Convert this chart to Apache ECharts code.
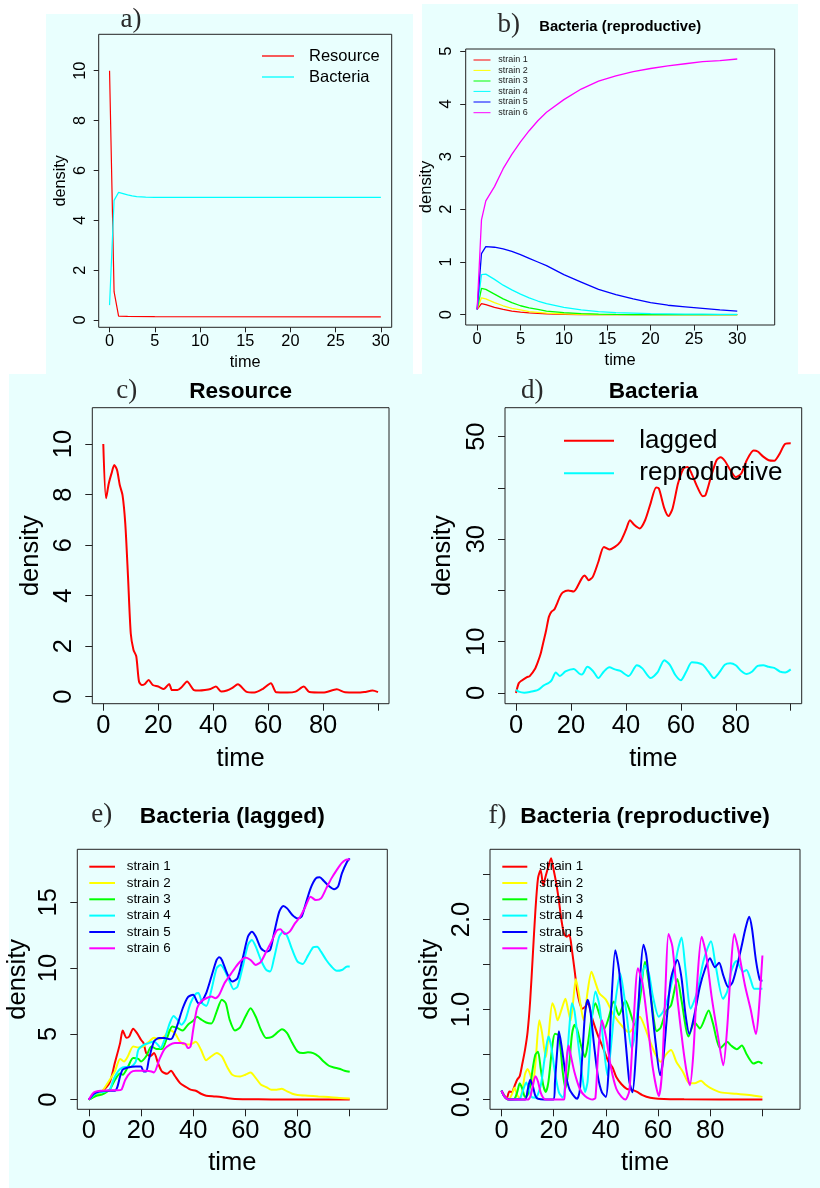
<!DOCTYPE html>
<html><head><meta charset="utf-8">
<script src="https://cdn.jsdelivr.net/npm/echarts@6/dist/echarts.min.js"></script>
<style>
html,body{margin:0;padding:0;background:#fff;}
#wrap{position:relative;width:820px;height:1188px;overflow:hidden;}
.bg{position:absolute;background:#e9fffe;}
#chart{position:absolute;left:0;top:0;width:820px;height:1188px;}
</style>
</head><body><div id="wrap">
<div class="bg" style="left:46px;top:14px;width:367px;height:365px"></div>
<div class="bg" style="left:422px;top:4px;width:376px;height:372px"></div>
<div class="bg" style="left:9px;top:374px;width:811px;height:814px"></div>
<div id="chart"></div></div>
<script>
// ---------------- data ----------------
const strainNames = ['strain 1','strain 2','strain 3','strain 4','strain 5','strain 6'];
const strainColors = ['#FF0000','#FFFF00','#00FF00','#00FFFF','#0000FF','#FF00FF'];

// panel a
const aNames = ['Resource','Bacteria'];
const aColors = ['#FF0000','#00FFFF'];
const aResource = [[0,10],[0.5,1.14],[1,0.16],[2,0.15],[5,0.14],[30,0.13]];
const aBacteria = [[0,0.6],[0.5,4.8],[1,5.12],[1.5,5.07],[2,5.02],[2.5,4.98],[3,4.95],[4,4.93],[5,4.92],[30,4.92]];
const aXTicks = [0,5,10,15,20,25,30];
const aYTicks = [0,2,4,6,8,10];

// panel b
const bTime = [0,0.5,1,2,3,4,5,6,7,8,10,12,14,16,18,20,22,24,26,28,30];
const bStrain1 = [0.1,0.21,0.19,0.14,0.1,0.07,0.05,0.035,0.025,0.018,0.008,0.004,0,0,0,0,0,0,0,0,0];
const bStrain2 = [0.1,0.32,0.3,0.23,0.17,0.12,0.09,0.06,0.045,0.03,0.015,0.008,0.003,0,0,0,0,0,0,0,0];
const bStrain3 = [0.1,0.5,0.48,0.39,0.3,0.23,0.17,0.13,0.1,0.07,0.04,0.02,0.01,0.005,0.003,0.002,0.001,0,0,0,0];
const bStrain4 = [0.1,0.76,0.77,0.67,0.56,0.47,0.39,0.32,0.26,0.21,0.14,0.09,0.06,0.04,0.03,0.02,0.015,0.01,0.01,0.005,0.005];
const bStrain5 = [0.1,1.16,1.29,1.28,1.25,1.2,1.14,1.07,1.0,0.93,0.76,0.62,0.48,0.38,0.3,0.23,0.18,0.15,0.12,0.09,0.07];
const bStrain6 = [0.1,1.8,2.16,2.43,2.77,3.04,3.28,3.49,3.68,3.84,4.08,4.28,4.43,4.53,4.61,4.67,4.72,4.76,4.8,4.82,4.85];
const bXTicks = [0,5,10,15,20,25,30];
const bYTicks = [0,1,2,3,4,5];

// panel c
const cResource = [[0,10.0],[1,7.85],[2,8.44],[3,8.84],[4,9.17],[5,8.97],[6,8.38],[7,7.98],[8,6.86],[9,4.75],[10,2.5],[11,1.85],[12,1.6],[13,0.6],[14,0.46],[15,0.49],[16.5,0.66],[18,0.46],[20,0.4],[22,0.3],[24,0.5],[25,0.26],[27,0.26],[28.5,0.37],[30.5,0.6],[33,0.26],[35,0.24],[37,0.26],[39,0.3],[41,0.4],[43,0.2],[45,0.24],[47,0.35],[49,0.49],[52,0.2],[55,0.16],[58,0.3],[61,0.53],[63,0.17],[67,0.16],[70,0.2],[73,0.4],[75,0.18],[80,0.16],[85,0.29],[88,0.17],[92,0.16],[95,0.18],[98,0.24],[100,0.18]];
const cdXTicks = [0,20,40,60,80,100];
const cdXLabels = [0,20,40,60,80];
const cYTicks = [0,2,4,6,8,10];

// panel d
const dNames = ['lagged','reproductive'];
const dColors = ['#FF0000','#00FFFF'];
const dLagged = [[0,0],[1,1.9],[2,2.4],[4,3.1],[5,3.3],[7,4.8],[8,6.1],[9,7.7],[10,10],[11,12.3],[12,14.9],[13,15.9],[14,16.3],[15,17.5],[16,18.8],[17,19.6],[19,20],[21,19.8],[22,20.4],[24,22.4],[25,22.9],[26.5,22],[28,22.7],[30,25.6],[32,28.5],[34,28],[36,28.5],[38,29.5],[40,31.8],[41.5,33.7],[43,32.8],[45,32.1],[47,33.7],[49,37],[51,40.1],[52,39.9],[54,36],[55.5,34.5],[57,36],[59,40.9],[61,43.8],[62.5,44.1],[64,42.7],[66,40.2],[68,38.4],[69,38.6],[71,42.2],[73,45.4],[74.5,46],[76,45.3],[78,43.5],[80,42.1],[82,42.8],[84,45.4],[86.5,47.3],[88,47.1],[90,46.1],[92,45.4],[94,45.3],[96,46.7],[98,48.6],[100,48.7]];
const dReproductive = [[0,0.6],[1,0.26],[3,0.07],[5,0.2],[8,0.6],[10,1.43],[12,2],[13,2.5],[14.5,4],[16,3.3],[18,4.2],[21,4.7],[23,3.8],[24,3.6],[26,5.1],[28,4.3],[30,2.9],[32,4.2],[34,5.0],[36,4.6],[38,4.3],[41,3.3],[44,5.4],[46,4.8],[49,2.9],[51.5,4.0],[54,6.4],[56,5.5],[58,3.5],[60,2.5],[62,4.2],[64,6.0],[66,5.9],[68,5.5],[70,4.2],[72,2.9],[74,4.0],[76,5.5],[78,5.8],[80,5.4],[82,4.3],[84,3.7],[86,4.2],[88,5.3],[90,5.4],[92,5.1],[94,4.9],[96,4.2],[98,4.0],[100,4.6]];
const dYTicks = [0,10,20,30,40,50];
const dYLabels = [0,10,30,50];

// panel e (lagged strains)
const eStrain1 = [[0,0],[3,0.4],[5,0.6],[8,1.3],[10,2.8],[12,4.3],[13,5.26],[14.5,4.7],[15.5,4.8],[17,5.4],[18.5,5.06],[20,4.55],[21,4.3],[22,3.54],[23.5,3.3],[25,3.54],[26.5,2.8],[28,2.15],[30,1.97],[31.5,2.2],[33,1.8],[35,1.26],[37,1.0],[39,0.76],[41,0.68],[43,0.45],[45,0.3],[48,0.25],[50,0.23],[53,0.13],[56,0.05],[60,0.04],[70,0.02],[100,0.01]];
const eStrain2 = [[0,0],[3,0.35],[5,0.6],[8,1.5],[10,2.15],[12,3.1],[13.5,2.9],[15,3.3],[17,4.05],[19,3.97],[21,4.05],[23,4.4],[25,4.7],[27,4.6],[29,4.8],[31,5.3],[33,5.06],[35,4.4],[37,4.2],[39,4.2],[41,4.4],[43,3.8],[45,3.0],[47,3.3],[49,3.54],[51,3.3],[53,2.5],[55,1.9],[58,1.77],[60,1.9],[62,2.07],[64,1.64],[66,1.14],[68,0.96],[70,0.76],[72,0.76],[74,0.83],[76,0.63],[78,0.45],[80,0.35],[84,0.3],[88,0.25],[92,0.2],[96,0.13],[100,0.1]];
const eStrain3 = [[0,0],[3,0.3],[5,0.38],[8,0.76],[10,1.5],[12,2.0],[13,1.9],[15,2.5],[17,3.16],[19,3.1],[20,2.9],[22,3.3],[24,4.05],[26,3.85],[28,3.85],[30,4.7],[32,5.56],[34,5.44],[36,5.26],[38,5.7],[40,6.0],[41.5,6.3],[43,6.1],[45,5.87],[47,5.8],[49,6.7],[51,7.6],[52.5,7.33],[54,6.07],[56,5.26],[58,5.5],[60,6.3],[62,6.95],[64,6.3],[66,5.3],[68,4.68],[70,4.75],[72,5.06],[74,5.36],[76,5.06],[78,4.3],[80,3.67],[82,3.54],[84,3.6],[86,3.54],[88,3.3],[90,2.9],[92,2.58],[94,2.45],[96,2.35],[98,2.2],[100,2.12]];
const eStrain4 = [[0,0],[3,0.5],[6,0.6],[8,0.76],[9,1.26],[10,1.77],[12,2.33],[14,2.48],[16,2.48],[18,2.9],[19,3.8],[21,4.17],[23,4.3],[25,4.43],[26.5,4.17],[27.5,3.92],[29,4.55],[31,5.8],[32.5,6.37],[34,6.07],[35.5,5.7],[37,6.07],[39,7.33],[41,8.04],[42,8.1],[43.5,7.33],[45,7.13],[47,8.35],[49,10.0],[50.5,10.24],[52,9.86],[54,8.98],[55.5,8.4],[57,8.6],[59,10.1],[61,11.76],[62.5,12.14],[64,11.63],[66,10.6],[68,9.86],[69.5,9.74],[71,10.75],[73,12.4],[74.5,12.77],[76,12.44],[78,11.38],[80,10.5],[82,10.32],[84,10.95],[86,11.58],[87.5,11.63],[89,11.25],[91,10.62],[93,10.12],[95,9.8],[97,9.86],[99,10.12],[100,10.12]];
const eStrain5 = [[0,0],[2,0.45],[4,0.63],[8,0.68],[10,0.68],[11,1.0],[12,1.77],[13,2.28],[15,2.45],[18,2.53],[20,2.53],[21,2.15],[22,2.15],[23,3.03],[25,4.43],[27,4.68],[29,4.68],[31,4.6],[32,4.68],[34,5.7],[36,6.95],[38,7.8],[40,7.97],[42,7.33],[43,7.38],[45,8.1],[47,9.36],[49,10.62],[50,10.82],[51,10.62],[53,9.6],[55,8.98],[57,9.23],[59,10.75],[61,12.4],[62.5,12.77],[64,12.4],[66,11.5],[68,11.25],[69.5,11.38],[71,12.65],[73,14.29],[74.5,14.72],[76,14.54],[78,14.04],[80,13.78],[81.5,13.9],[83,14.8],[85,16.06],[87,16.82],[88.5,16.9],[90,16.64],[92,16.24],[94,16.0],[95.5,16.19],[97,17.2],[99,18.08],[100,18.34]];
const eStrain6 = [[0,0],[2,0.56],[5,0.68],[9,0.71],[11,0.71],[12.5,0.76],[14,1.52],[16,2.07],[18,2.2],[20,2.2],[22,2.2],[24,2.15],[25,2.07],[27,3.03],[29,3.84],[31,4.17],[33,4.3],[35,4.3],[37,4.25],[38,3.92],[39,4.05],[40,5.3],[41.5,6.95],[43,7.46],[45,7.71],[47,7.84],[48.5,7.71],[50,7.97],[52,8.85],[54,9.43],[56,10.0],[58,10.5],[60,10.8],[62,10.62],[64,10.24],[66,10.5],[68,11.25],[70,12.0],[72,12.85],[73.5,12.95],[75,12.6],[77,12.77],[79,13.4],[81,13.9],[83,14.67],[85,15.43],[87,15.17],[89,15.3],[91,16.06],[93,16.82],[95,17.45],[97,18.0],[99,18.26],[100,18.26]];
const efXTicks = [0,20,40,60,80,100];
const efXLabels = [0,20,40,60,80];
const eYTicks = [0,5,10,15];

// panel f (reproductive strains)
const fStrain1 = [[0,0.1],[1,0.05],[2,0.01],[3,0.09],[4,0.085],[5,0.15],[6,0.22],[7,0.26],[8,0.4],[9,0.55],[10,0.75],[11,1.1],[12,1.6],[13,2.1],[14,2.46],[15,2.55],[16,2.38],[17,2.49],[18,2.59],[19,2.68],[20,2.55],[21,2.4],[22,2.21],[23,1.99],[24,1.84],[25,1.81],[26,1.83],[27,1.66],[28,1.44],[29,1.21],[30,1.07],[31,1.01],[32,1.03],[33,1.07],[35,0.88],[37,0.71],[39,0.57],[41,0.42],[42.5,0.36],[44,0.25],[46,0.17],[48,0.12],[50,0.11],[52,0.085],[54,0.05],[57,0.02],[60,0.01],[70,0.003],[100,0]];
const fStrain2 = [[0,0.1],[1,0.04],[2,0.01],[3,0.01],[4,0.06],[5,0.13],[6,0.05],[7,0.02],[8,0.1],[9,0.28],[10,0.34],[11,0.28],[12,0.18],[13,0.4],[14.5,0.88],[15.5,0.75],[17,0.47],[18,0.7],[19.5,1.07],[20.5,1.0],[21.5,0.88],[23,1.0],[24.5,1.12],[25.5,1.0],[26.5,0.88],[27.5,1.1],[28.5,1.34],[29.5,1.2],[31.5,0.88],[33,1.2],[34.5,1.42],[36,1.3],[37.5,1.18],[40,1.11],[43,0.94],[47,0.79],[49,0.75],[51,0.82],[53,0.92],[55,0.8],[57,0.64],[59,0.5],[61,0.42],[63,0.5],[65,0.55],[67,0.42],[69.5,0.31],[72,0.18],[74,0.18],[76.5,0.21],[78,0.17],[80,0.13],[84,0.08],[90,0.065],[95,0.05],[100,0.03]];
const fStrain3 = [[0,0.1],[1,0.04],[2.5,0.0],[5,0.01],[6,0.08],[7,0.18],[8,0.12],[9,0.03],[10,0.05],[11,0.15],[12,0.35],[13,0.5],[14,0.53],[15,0.35],[16,0.16],[17,0.085],[18,0.2],[19.5,0.6],[20.5,0.73],[22,0.71],[23.5,0.3],[24.5,0.12],[26,0.4],[27,0.72],[28,0.83],[29,0.78],[30.5,0.6],[32,0.47],[33,0.6],[34.5,0.9],[36,1.07],[37.5,0.95],[39.5,0.79],[41,0.9],[43,1.09],[45,0.94],[47.5,1.1],[49,1.0],[51,0.83],[53,1.1],[55,1.53],[57,1.2],[59.5,0.76],[61,0.8],[63,0.98],[65,1.05],[67.4,1.34],[69,1.1],[71.7,0.7],[74,0.86],[76,0.79],[79.4,0.99],[81,0.85],[83.8,0.57],[86.6,0.64],[88,0.6],[90.2,0.56],[92.1,0.6],[94,0.5],[96.6,0.4],[98.5,0.42],[100,0.4]];
const fStrain4 = [[0,0.1],[1,0.04],[2,0.01],[3,0],[7,0.01],[8,0.08],[9.5,0.19],[10.5,0.12],[11.5,0.03],[13,0.02],[15,0.15],[16.5,0.45],[18,0.7],[19,0.6],[20.5,0.3],[22,0.08],[23.5,0.02],[25,0.4],[26,0.8],[27,1.07],[28,0.98],[29.5,0.6],[31,0.25],[32,0.085],[33,0.2],[34.5,0.85],[36,1.2],[37.5,1.05],[39,0.65],[40.6,0.27],[42,0.6],[43.5,1.05],[45.5,1.4],[47.5,1.05],[49.9,0.57],[51,0.7],[53,1.2],[55,1.49],[56.5,1.4],[58,1.15],[60.3,0.92],[62,0.98],[64,1.15],[66,1.4],[67.5,1.65],[69,1.8],[70.5,1.45],[72.5,1.01],[75,1.2],[77.5,1.55],[80.3,1.76],[82,1.5],[84.9,1.12],[86.5,1.2],[88,1.42],[90,1.54],[92.6,1.42],[93.9,1.44],[95.5,1.33],[96.9,1.23],[100,1.23]];
const fStrain5 = [[0,0.1],[1,0.04],[2,0.01],[3,0],[9,0],[10,0.1],[11,0.22],[12,0.15],[13,0.04],[14,0.01],[20,0],[20.5,0.2],[21.5,0.6],[22,0.76],[23,0.6],[24.5,0.3],[26,0.12],[28,0.03],[29,0.01],[30,0.1],[31,0.5],[32,0.95],[33,1.11],[34,1.0],[35.5,0.6],[37,0.25],[38.5,0.08],[40,0.03],[41,0.3],[42,1.0],[43.6,1.66],[45,1.45],[46.5,1.0],[48,0.5],[49,0.2],[50.2,0.08],[51.5,0.5],[53,1.3],[54.4,1.72],[55.5,1.6],[57,1.2],[59,0.65],[60.8,0.27],[62,0.45],[63.5,0.95],[65,1.35],[67.4,1.55],[69,1.35],[70.5,0.95],[72,0.73],[74,0.95],[76,1.25],[78,1.45],[79.9,1.57],[81.8,1.47],[83.4,1.52],[85,1.38],[86.9,1.25],[88.5,1.3],[90,1.45],[92,1.7],[93.5,1.9],[94.9,2.03],[96,1.9],[97.5,1.55],[99,1.33],[100,1.32]];
const fStrain6 = [[0,0.1],[1,0.04],[2,0.01],[2.5,0],[10,0],[11,0.03],[12,0.15],[13,0.26],[14,0.2],[15,0.08],[16,0.02],[17,0],[24,0],[24.3,0.1],[25,0.45],[25.7,0.6],[26.5,0.5],[28,0.3],[30,0.12],[32,0.04],[35,0],[36,0.02],[37,0.5],[38.5,0.88],[40,0.7],[42,0.35],[44,0.12],[46,0.03],[47.5,0],[49,0.1],[50.5,0.8],[52.3,1.46],[54,1.3],[56,0.85],[58,0.35],[60.3,0.04],[61.5,0.3],[62.8,1.2],[64,1.84],[65.5,1.7],[67.5,1.1],[69.5,0.6],[71,0.3],[72.2,0.16],[73.5,0.5],[75,1.3],[76.7,1.81],[78.5,1.6],[80.5,1.15],[83,0.7],[85,0.38],[86.5,0.8],[88,1.5],[89.2,1.84],[90.5,1.7],[93.3,1.27],[95.5,1.0],[97.5,0.73],[98.5,0.95],[100,1.6]];
const fYTicks = [0,0.5,1,1.5,2,2.5];
const fYLabels = [0,1,2];

// ---------------- layout / style ----------------
const SANS = '"Liberation Sans", Arial, Helvetica, sans-serif';
const SERIF = '"Liberation Serif", "Times New Roman", serif';
const FRAME = '#222';
const zip = (t, v) => t.map((x, i) => [x, v[i]]);

const panels = [
  { grid:{left:98.7,top:34.3,width:293,height:293}, x:[-1.2,31.2], y:[-0.29,11.46],
    xTicks:aXTicks, xLabels:aXTicks, yTicks:aYTicks, yLabels:aYTicks, fs:16.3, tick:5, xm:6, ym:10, xg:27, yg:30,
    lw:1.2, smooth:false,
    series:[{data:aResource,color:aColors[0]},{data:aBacteria,color:aColors[1]}] },
  { grid:{left:465.7,top:49,width:309,height:276}, x:[-1.32,34.32], y:[-0.195,5.04],
    xTicks:bXTicks, xLabels:bXTicks, yTicks:bYTicks, yLabels:bYTicks, fs:16.5, tick:5.5, xm:6, ym:10.5, xg:27, yg:31,
    lw:1.3, smooth:false,
    series:[bStrain1,bStrain2,bStrain3,bStrain4,bStrain5,bStrain6].map((s,i)=>({data:zip(bTime,s),color:strainColors[i]})) },
  { grid:{left:92.3,top:407.7,width:296.7,height:296}, x:[-4,104], y:[-0.28,11.44],
    xTicks:cdXTicks, xLabels:cdXLabels, yTicks:cYTicks, yLabels:cYTicks, fs:25.5, tick:7, xm:9, ym:15, xg:42, yg:48,
    lw:2, smooth:0.25,
    series:[{data:cResource,color:'#FF0000'}] },
  { grid:{left:505,top:407.7,width:296.7,height:296}, x:[-4,104], y:[-2.09,55.65],
    xTicks:cdXTicks, xLabels:cdXLabels, yTicks:dYTicks, yLabels:dYLabels, fs:25.5, tick:7, xm:9, ym:15, xg:42, yg:49,
    lw:2, smooth:0.25,
    series:[{data:dLagged,color:dColors[0]},{data:dReproductive,color:dColors[1]}] },
  { grid:{left:77.3,top:849.3,width:310,height:260}, x:[-4.4,114.4], y:[-0.73,19.03],
    xTicks:efXTicks, xLabels:efXLabels, yTicks:eYTicks, yLabels:eYTicks, fs:25.5, tick:7, xm:8.5, ym:15, xg:41, yg:46,
    lw:2, smooth:0.25,
    series:[eStrain1,eStrain2,eStrain3,eStrain4,eStrain5,eStrain6].map((s,i)=>({data:s,color:strainColors[i]})) },
  { grid:{left:490,top:849.3,width:310,height:260}, x:[-4.4,114.4], y:[-0.108,2.78],
    xTicks:efXTicks, xLabels:efXLabels, yTicks:fYTicks, yLabels:fYLabels, yFmt:v=>Number(v).toFixed(1), fs:25.5, tick:7, xm:8.5, ym:15, xg:41, yg:47,
    lw:2, smooth:0.25,
    series:[fStrain1,fStrain2,fStrain3,fStrain4,fStrain5,fStrain6].map((s,i)=>({data:s,color:strainColors[i]})) }
];

const grids=[], xAxes=[], yAxes=[], seriesList=[];
panels.forEach((p, i) => {
  grids.push(Object.assign({show:true, borderColor:FRAME, borderWidth:1, backgroundColor:'transparent'}, p.grid));
  const txt = {fontSize:p.fs, color:'#000', fontFamily:SANS};
  xAxes.push({type:'value', gridIndex:i, min:p.x[0], max:p.x[1], position:'bottom',
    name:'time', nameLocation:'middle', nameGap:p.xg, nameTextStyle:txt,
    axisLine:{show:false, onZero:false}, splitLine:{show:false},
    axisTick:{show:true, inside:false, length:p.tick, customValues:p.xTicks, lineStyle:{color:FRAME,width:1}},
    axisLabel:Object.assign({show:true, margin:p.xm, customValues:p.xLabels, formatter:v=>String(v)}, txt)});
  yAxes.push({type:'value', gridIndex:i, min:p.y[0], max:p.y[1], position:'left',
    name:'density', nameLocation:'middle', nameGap:p.yg, nameTextStyle:txt,
    axisLine:{show:false, onZero:false}, splitLine:{show:false},
    axisTick:{show:true, inside:false, length:p.tick, customValues:p.yTicks, lineStyle:{color:FRAME,width:1}},
    axisLabel:Object.assign({show:true, rotate:90, margin:p.ym, customValues:p.yLabels, formatter:p.yFmt || (v=>String(v))}, txt)});
  p.series.forEach((s, k) => {
    seriesList.push({type:'line', xAxisIndex:i, yAxisIndex:i, data:s.data, symbol:'none', showSymbol:false,
      smooth:p.smooth, silent:true, z:2+k*0.01,
      lineStyle:{color:s.color, width:p.lw}, itemStyle:{color:s.color}});
  });
});

// titles, panel letters and legends
const graphics = [];
function text(x, y, t, opts) {
  graphics.push({type:'text', x:x, y:y, z:100, silent:true,
    style:Object.assign({text:t, fill:'#000', align:'center', verticalAlign:'middle', fontFamily:SANS}, opts)});
}
const titles = [
  ['Bacteria (reproductive)', 620.2, 27, 14.8],
  ['Resource', 240.7, 391.7, 22.6],
  ['Bacteria', 653.3, 391.7, 22.6],
  ['Bacteria (lagged)', 232.3, 816.7, 22.8],
  ['Bacteria (reproductive)', 645, 816.7, 22.8]
];
titles.forEach(t => text(t[1], t[2], t[0], {fontSize:t[3], fontWeight:'bold'}));
const letters = [['a)',131,19.5],['b)',508.8,24.5],['c)',126.7,391],['d)',532.3,391],['e)',101.8,814.5],['f)',497.5,816]];
letters.forEach(l => text(l[1], l[2], l[0], {fontSize:27, fontFamily:SERIF, fill:'#2a2a2a'}));

function legend(names, colors, x1, x2, tx, rows, fs, lw, fill) {
  names.forEach((n, i) => {
    graphics.push({type:'line', z:100, silent:true, shape:{x1:x1, y1:rows[i], x2:x2, y2:rows[i]},
      style:{stroke:colors[i], lineWidth:lw}});
    text(tx, rows[i], n, {fontSize:fs, align:'left', fill:fill || '#000'});
  });
}
legend(aNames, aColors, 262, 294, 309, [56, 77], 16.5, 1.3);
legend(strainNames, strainColors, 473.5, 490.5, 498.3, [60,70.4,81,91.4,102,112.7], 9, 1, '#222');
legend(dNames, dColors, 564, 614, 639.3, [440.7, 473.3], 26, 2);
const efRows = [866.7, 883, 899.3, 915.6, 932, 948.3];
legend(strainNames, strainColors, 89.3, 115, 126.7, efRows, 13.4, 2);
legend(strainNames, strainColors, 502.3, 527.3, 539.3, efRows, 13.4, 2);

const chart = echarts.init(document.getElementById('chart'), null, {renderer:'canvas', width:820, height:1188});
chart.setOption({
  animation:false,
  backgroundColor:'transparent',
  grid:grids, xAxis:xAxes, yAxis:yAxes, series:seriesList,
  graphic:{elements:graphics}
});
</script></body></html>
